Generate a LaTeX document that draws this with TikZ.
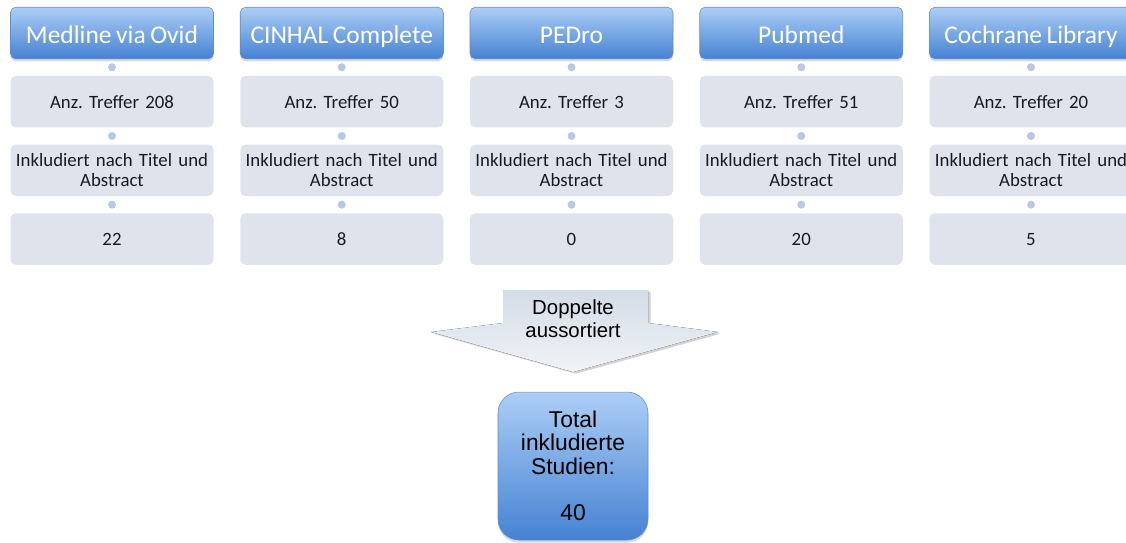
\documentclass[tikz,border=0pt]{standalone}
\usepackage{fontspec}
\setmainfont{Carlito}[WordSpace=0.8]
\newfontfamily\arialfont{Liberation Sans}
\usetikzlibrary{positioning,shadows,calc}
\definecolor{HeadTop}{RGB}{172,206,246}
\definecolor{HeadBottom}{RGB}{70,130,210}
\definecolor{HeadLine}{RGB}{95,142,200}
\definecolor{BoxGray}{RGB}{223,227,235}
\definecolor{DotBlue}{RGB}{185,200,224}
\definecolor{ArrowTop}{RGB}{212,220,231}
\definecolor{ArrowBottom}{RGB}{240,243,247}
\definecolor{TextDark}{RGB}{25,25,35}
\frenchspacing

\begin{document}
\begin{tikzpicture}[
  headbox/.style={rounded corners=3pt, top color=HeadTop, bottom color=HeadBottom,
                  draw=HeadLine, line width=0.3pt, minimum width=4.06cm, minimum height=1.03cm,
                  text height=14pt, text depth=2.6pt,
                  text=white, font=\fontsize{14.5}{17}\selectfont,
                  drop shadow={opacity=0.3, shadow xshift=0pt, shadow yshift=-1.5pt}},
  graybox/.style={rounded corners=3pt, fill=BoxGray, minimum width=4.06cm, minimum height=1.03cm,
                  inner xsep=0pt, text width=4.06cm, align=center, text=TextDark,
                  font=\fontsize{10.7}{11.2}\selectfont},
  linkdot/.style={circle, fill=DotBlue, inner sep=0pt, minimum size=0.16cm},
  totalbox/.style={rounded corners=0.42cm, top color=HeadTop, bottom color=HeadBottom,
                   draw=HeadLine, line width=0.3pt, minimum width=3cm, minimum height=2.96cm,
                   align=center, font=\arialfont\fontsize{13}{13.3}\selectfont,
                   drop shadow={opacity=0.3, shadow xshift=0pt, shadow yshift=-1.5pt}},
]
\useasboundingbox (0,0) rectangle (22.52,-10.84);

% one column per database
\foreach \db/\hits/\num [count=\k] in {Medline via Ovid/208/22, CINHAL Complete/50/8,
    PEDro/3/0, Pubmed/51/20, Cochrane Library/20/5} {
  \node[headbox] (head\k) at ({2.24+4.595*(\k-1)},-0.66) {\db};
  \node[graybox, below=0.33cm of head\k] (hits\k) {Anz. Treffer \hits};
  \node[graybox, below=0.33cm of hits\k] (incl\k) {Inkludiert nach Titel und\\Abstract};
  \node[graybox, below=0.33cm of incl\k] (num\k) {\num};
  \path (head\k) -- node[linkdot] {} (hits\k);
  \path (hits\k) -- node[linkdot] {} (incl\k);
  \path (incl\k) -- node[linkdot] {} (num\k);
}

% merge arrow
\fill[top color=ArrowTop, bottom color=ArrowBottom,
      drop shadow={opacity=0.35, shadow xshift=1.5pt, shadow yshift=-1pt}]
  (10.06,-5.80) -- (12.96,-5.80) -- (12.96,-6.46) -- (14.36,-6.64) -- (11.46,-7.44)
  -- (8.62,-6.64) -- (10.06,-6.46) -- cycle;
\node[align=center, font=\arialfont\fontsize{11.6}{13}\selectfont] (dup) at (11.46,-6.37)
  {Doppelte\\aussortiert};

\node[totalbox] (total) at (11.46,-9.32) {Total\\inkludierte\\Studien:\\[13.3pt]40};
\end{tikzpicture}
\end{document}
